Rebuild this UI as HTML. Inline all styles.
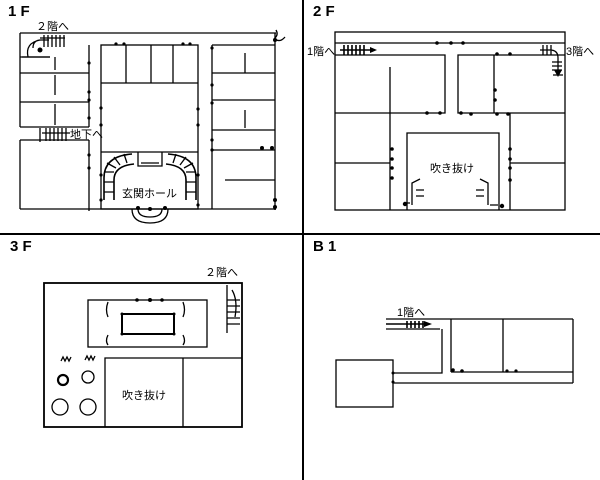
<!DOCTYPE html>
<html><head><meta charset="utf-8"><style>
html,body{margin:0;padding:0;background:#fff;}
svg{display:block;}
text{font-family:"Liberation Sans","Noto Sans CJK JP",sans-serif;fill:#000;}
.t{font-weight:bold;font-size:15px;}
.l{font-size:11px;}
</style></head><body>
<svg width="600" height="480" viewBox="0 0 600 480" xmlns="http://www.w3.org/2000/svg">
<g stroke="#000" fill="none">
<line x1="303" y1="0" x2="303" y2="480" stroke-width="2"/>
<line x1="0" y1="234" x2="600" y2="234" stroke-width="2"/>
</g>
<text class="t" x="8" y="16">1 F</text>
<text class="t" x="313" y="16">2 F</text>
<text class="t" x="10" y="251">3 F</text>
<text class="t" x="313" y="251">B 1</text>

<!-- 1F -->
<g stroke="#000" stroke-width="1.3" fill="none">
<line x1="20" y1="33" x2="276" y2="33"/>
<line x1="20" y1="33" x2="20" y2="127"/>
<line x1="20" y1="140" x2="20" y2="209"/>
<line x1="89" y1="45" x2="89" y2="127"/>
<line x1="89" y1="140" x2="89" y2="211"/>
<line x1="20" y1="57" x2="50" y2="57"/>
<line x1="20" y1="73" x2="89" y2="73"/>
<line x1="20" y1="102" x2="89" y2="102"/>
<line x1="20" y1="127" x2="89" y2="127"/>
<line x1="20" y1="140" x2="89" y2="140"/>
<line x1="55" y1="57" x2="55" y2="70"/>
<line x1="55" y1="75" x2="55" y2="95"/>
<line x1="55" y1="104" x2="55" y2="125"/>
<line x1="20" y1="209" x2="276" y2="209"/>
<rect x="101" y="45" width="97" height="164"/>
<line x1="101" y1="83" x2="198" y2="83"/>
<line x1="126" y1="45" x2="126" y2="83"/>
<line x1="151" y1="45" x2="151" y2="83"/>
<line x1="173" y1="45" x2="173" y2="83"/>
<line x1="101" y1="152" x2="198" y2="152"/>
<line x1="212" y1="45" x2="212" y2="209"/>
<line x1="212" y1="45" x2="275" y2="45"/>
<line x1="212" y1="73" x2="275" y2="73"/>
<line x1="212" y1="100" x2="275" y2="100"/>
<line x1="212" y1="130" x2="275" y2="130"/>
<line x1="212" y1="150" x2="275" y2="150"/>
<line x1="245" y1="53" x2="245" y2="73"/>
<line x1="245" y1="110" x2="245" y2="128"/>
<line x1="225" y1="180" x2="275" y2="180"/>
<line x1="275" y1="33" x2="275" y2="210"/>
<path d="M40 38 h25 M44 35v12 M48 35v12 M52 35v12 M56 35v12 M60 35v12 M64 35v12 M33 48 q0-8 8-8 h8 M28 57 q-3-14 12-17 M22 57 h28"/>
<path d="M42 133 h28 M46 128v13 M50 128v13 M54 128v13 M58 128v13 M62 128v13 M66 128v13 M40 128v14"/>
<!-- entrance arches -->
<path d="M104 200 v-22 q0-22 28-24 M114 200 v-20 q0-14 20-16 M196 200 v-22 q0-22 -28-24 M186 200 v-20 q0-14 -20-16" stroke-width="1.6"/>
<path d="M104 172h10 M104 182h10 M104 192h10 M107 163l9 5 M114 157l6 8 M124 154l3 9 M196 172h-10 M196 182h-10 M196 192h-10 M193 163l-9 5 M186 157l-6 8 M176 154l-3 9"/>
<path d="M138 152v14 h24 v-14 M141 163h18 M141 166h18"/>
<path d="M132 209 q0 14 18 14 q18 0 18 -14 M138 209 q0 8 12 8 q12 0 12 -8"/>
<path d="M276 30 q3 5 -2 9 M275 39 q5 4 10 -2"/>
</g>
<g fill="#000">
<circle cx="116" cy="44" r="1.6"/><circle cx="124" cy="44" r="1.6"/><circle cx="183" cy="44" r="1.6"/><circle cx="190" cy="44" r="1.6"/>
<circle cx="89" cy="63" r="1.6"/><circle cx="89" cy="92" r="1.6"/><circle cx="89" cy="100" r="1.6"/><circle cx="89" cy="118" r="1.6"/>
<circle cx="89" cy="155" r="1.6"/><circle cx="89" cy="168" r="1.6"/><circle cx="101" cy="108" r="1.6"/><circle cx="101" cy="125" r="1.6"/>
<circle cx="198" cy="109" r="1.6"/><circle cx="198" cy="125" r="1.6"/><circle cx="212" cy="48" r="1.6"/><circle cx="212" cy="85" r="1.6"/>
<circle cx="212" cy="103" r="1.6"/><circle cx="212" cy="140" r="1.6"/><circle cx="212" cy="150" r="1.6"/><circle cx="262" cy="148" r="2"/><circle cx="272" cy="148" r="2"/>
<circle cx="275" cy="200" r="2"/><circle cx="275" cy="207" r="2"/><circle cx="275" cy="40" r="2"/>
<circle cx="101" cy="175" r="1.6"/><circle cx="101" cy="200" r="1.6"/><circle cx="198" cy="175" r="1.6"/><circle cx="198" cy="205" r="1.6"/>
<circle cx="138" cy="208" r="2"/><circle cx="150" cy="209" r="2"/><circle cx="165" cy="208" r="2"/>
<circle cx="40" cy="50" r="2.5"/>
</g>
<text class="l" x="36" y="30">２階へ</text>
<text class="l" x="70" y="138">地下へ</text>
<text class="l" x="122" y="197">玄関ホール</text>

<!-- 2F -->
<g stroke="#000" stroke-width="1.3" fill="none">
<rect x="335" y="32" width="230" height="178"/>
<line x1="335" y1="43" x2="565" y2="43"/>
<path d="M335 55 H445 V113 H335"/>
<path d="M565 55 H458 V113 H565"/>
<line x1="494" y1="55" x2="494" y2="113"/>
<line x1="390" y1="67" x2="390" y2="210"/>
<line x1="510" y1="113" x2="510" y2="210"/>
<line x1="335" y1="163" x2="390" y2="163"/>
<line x1="510" y1="163" x2="565" y2="163"/>
<path d="M407 210 V133 H499 V210"/>
<path d="M340 50 h30 M344 45v10 M348 45v10 M352 45v10 M356 45v10 M360 45v10 M364 45v10" stroke-width="1.6"/>
<path d="M540 50 h10 q8 0 8 8 v15 M543 45v10 M547 45v10 M551 45v10 M552 62h10 M552 66h10 M552 70h10 M553 75h10"/>
<path d="M412 205 v-22 l8-4 M416 190h8 M416 196h8 M410 203h-6 M488 205 v-22 l-8-4 M484 190h-8 M484 196h-8 M490 205h8"/>
</g>
<g fill="#000">
<path d="M370 47 l7 3 l-7 3z"/><path d="M554 70 l4 7 l4 -7z"/>
<circle cx="437" cy="43" r="1.8"/><circle cx="451" cy="43" r="1.8"/><circle cx="463" cy="43" r="1.8"/>
<circle cx="497" cy="54" r="1.8"/><circle cx="510" cy="54" r="1.8"/>
<circle cx="427" cy="113" r="1.8"/><circle cx="440" cy="113" r="1.8"/><circle cx="461" cy="113" r="1.8"/><circle cx="471" cy="114" r="1.8"/>
<circle cx="495" cy="90" r="1.8"/><circle cx="495" cy="100" r="1.8"/><circle cx="497" cy="114" r="1.8"/><circle cx="508" cy="114" r="1.8"/>
<circle cx="392" cy="149" r="1.8"/><circle cx="392" cy="159" r="1.8"/><circle cx="392" cy="168" r="1.8"/><circle cx="392" cy="178" r="1.8"/>
<circle cx="510" cy="149" r="1.8"/><circle cx="510" cy="159" r="1.8"/><circle cx="510" cy="168" r="1.8"/><circle cx="510" cy="180" r="1.8"/>
<circle cx="405" cy="204" r="2.2"/><circle cx="502" cy="206" r="2.2"/>
</g>
<text class="l" x="307" y="55">1階へ</text>
<text class="l" x="566" y="55">3階へ</text>
<text class="l" x="430" y="172">吹き抜け</text>

<!-- 3F -->
<g stroke="#000" stroke-width="1.3" fill="none">
<rect x="44" y="283" width="198" height="144" stroke-width="1.8"/>
<rect x="88" y="300" width="119" height="47"/>
<rect x="122" y="314" width="52" height="20" stroke-width="2"/>
<path d="M105 427 V358 H242"/>
<line x1="183" y1="358" x2="183" y2="427"/>
<path d="M108 302 q-3 8 0 15 M108 335 q-3 6 0 10 M183 302 q3 8 0 15 M183 335 q3 6 0 10"/>
<path d="M227 285 V333 M227 300h13 M227 306h13 M227 312h13 M227 318h13 M227 324h13 M232 290 q6 10 3 27"/>
<path d="M61 361 l2-4 2 4 2-4 2 4 2-4 M85 360 l2-4 2 4 2-4 2 4 2-4"/>
<circle cx="63" cy="380" r="5" stroke-width="2.2"/>
<circle cx="88" cy="377" r="6"/>
<circle cx="60" cy="407" r="8"/>
<circle cx="88" cy="407" r="8"/>
</g>
<g fill="#000"><circle cx="137" cy="300" r="1.8"/><circle cx="150" cy="300" r="2"/><circle cx="162" cy="300" r="1.8"/>
<circle cx="122" cy="314" r="1.5"/><circle cx="174" cy="314" r="1.5"/><circle cx="122" cy="334" r="1.5"/><circle cx="174" cy="334" r="1.5"/></g>
<text class="l" x="205" y="276">２階へ</text>
<text class="l" x="122" y="399">吹き抜け</text>

<!-- B1 -->
<g stroke="#000" stroke-width="1.3" fill="none">
<rect x="336" y="360" width="57" height="47"/>
<line x1="386" y1="319" x2="573" y2="319"/>
<line x1="451" y1="319" x2="451" y2="372"/>
<line x1="503" y1="319" x2="503" y2="372"/>
<line x1="573" y1="319" x2="573" y2="383"/>
<line x1="451" y1="372" x2="573" y2="372"/>
<line x1="393" y1="383" x2="573" y2="383"/>
<path d="M393 373 H442 V329"/>
<line x1="386" y1="329" x2="440" y2="329"/>
<path d="M386 324 h40 M407 321v7 M411 321v7 M415 321v7 M419 321v7 M423 321v7" stroke-width="1.6"/>
</g>
<g fill="#000"><path d="M424 321 l8 3 l-8 3z"/>
<circle cx="453" cy="370" r="1.8"/><circle cx="462" cy="371" r="1.8"/><circle cx="507" cy="371" r="1.6"/><circle cx="516" cy="371" r="1.6"/>
<circle cx="393" cy="373" r="1.5"/><circle cx="393" cy="382" r="1.5"/></g>
<text class="l" x="397" y="316">1階へ</text>
</svg>
</body></html>
